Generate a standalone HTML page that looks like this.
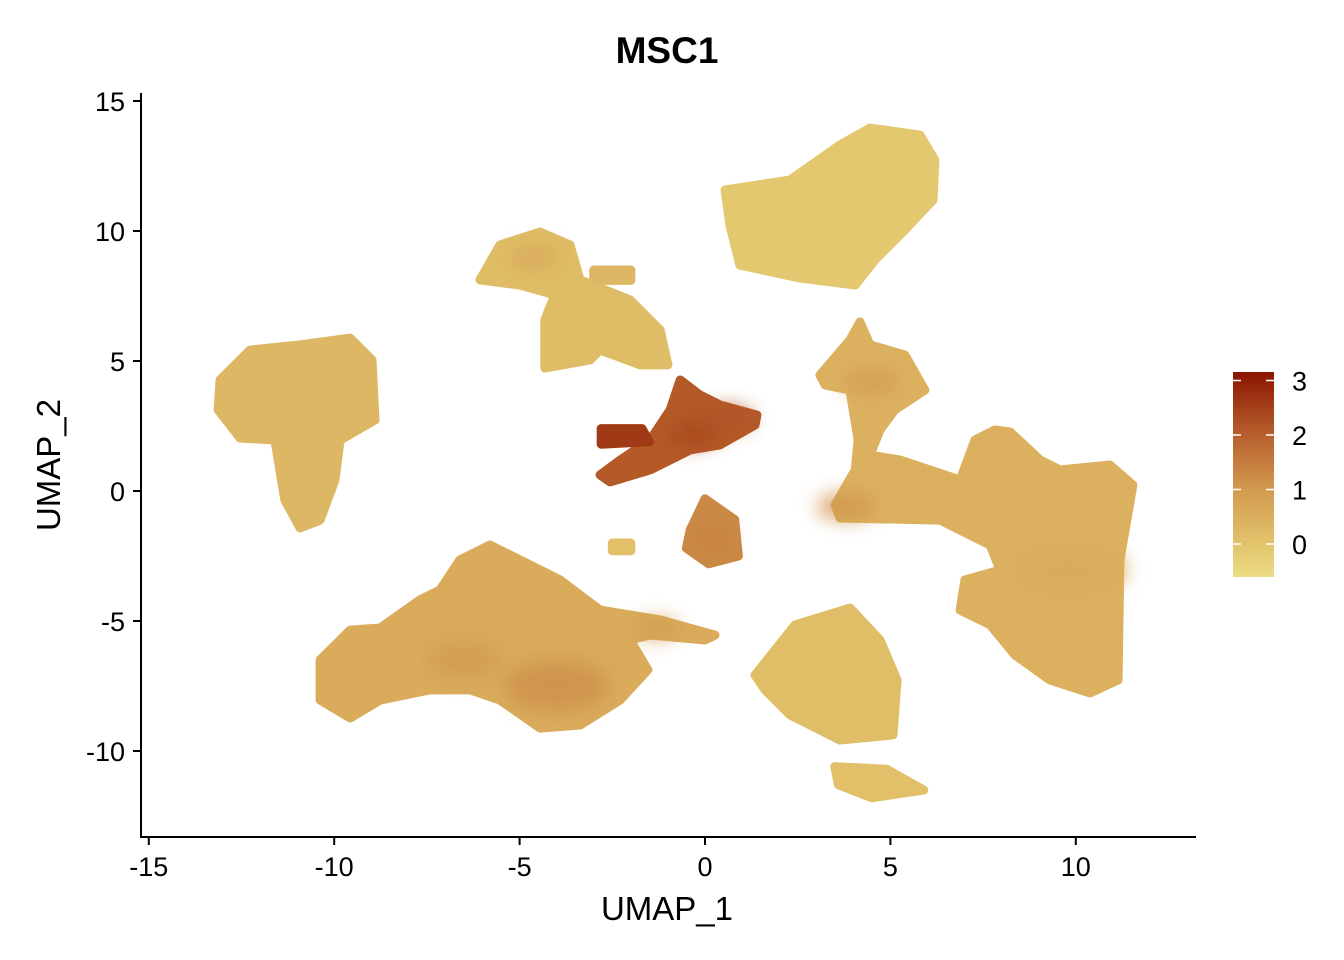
<!DOCTYPE html>
<html><head><meta charset="utf-8"><style>
html,body{margin:0;padding:0;background:#fff;}
svg{display:block;font-family:"Liberation Sans",Arial,sans-serif;}
</style></head><body>
<svg id="chart" width="1344" height="960">
<defs>
<linearGradient id="cbar" x1="0" y1="1" x2="0" y2="0">
<stop offset="0" stop-color="#ecdc85"/>
<stop offset="0.159" stop-color="#e2c46c"/>
<stop offset="0.424" stop-color="#d39a50"/>
<stop offset="0.69" stop-color="#b8602d"/>
<stop offset="1" stop-color="#8a1500"/>
</linearGradient>
<filter id="soft" filterUnits="userSpaceOnUse" x="0" y="0" width="1344" height="960"><feGaussianBlur stdDeviation="9"/></filter>
</defs>
<text x="667" y="63" text-anchor="middle" font-size="37" font-weight="bold">MSC1</text>
<g id="clusters"></g>
<g id="hot"></g>
<line x1="141" y1="93" x2="141" y2="838" stroke="#000" stroke-width="2"/>
<line x1="140" y1="837" x2="1196" y2="837" stroke="#000" stroke-width="2"/>
<g id="xt"></g>
<g id="yt"></g>
<text x="667" y="920" text-anchor="middle" font-size="33">UMAP_1</text>
<text transform="translate(60,465) rotate(-90)" text-anchor="middle" font-size="33">UMAP_2</text>
<g>
<rect x="1233" y="372" width="41" height="205" fill="url(#cbar)"/>
<g id="lt"></g>
</g>
</svg>
<script>
const xTicks=[-15,-10,-5,0,5,10];
const yTicks=[15,10,5,0,-5,-10];
const legendTicks=[3,2,1,0];
const clusterNames=["left","top-right","upper-mid","streak","center-small","right","bottom-left","bottom-mid","bottom-tiny","tiny-a","tiny-b","streak-tip"];
const clusterValues=[0.3,-0.1,0.2,2.1,1.3,0.45,0.6,0.15,0.1,0.3,0.1,2.6];
const clusterShapes=[
[[-13.08,4.27],[-12.27,5.42],[-10.92,5.62],[-9.57,5.88],[-8.98,5.04],[-8.9,2.73],[-9.84,1.96],[-9.98,0.42],[-10.38,-1.12],[-10.92,-1.42],[-11.33,-0.35],[-11.6,1.96],[-12.54,2.04],[-13.13,3.12]],
[[0.54,11.58],[2.29,11.96],[3.64,13.31],[4.45,13.96],[5.8,13.69],[6.2,12.73],[6.15,11.19],[5.39,10.04],[4.58,8.88],[4.05,7.92],[2.56,8.19],[0.94,8.69],[0.67,10.23]],
[[-6.07,8.12],[-5.53,9.46],[-4.45,9.96],[-3.64,9.46],[-3.37,8.12],[-2.02,7.35],[-1.21,6.19],[-1.0,4.85],[-1.75,4.85],[-2.83,5.42],[-3.1,5.04],[-4.32,4.73],[-4.32,6.58],[-4.05,7.54],[-4.99,7.92]],
[[-2.83,0.62],[-2.29,1.19],[-1.48,1.96],[-0.94,3.12],[-0.67,4.27],[-0.13,3.69],[0.4,3.31],[1.4,2.92],[1.35,2.54],[0.4,1.77],[-0.4,1.58],[-1.48,0.81],[-2.56,0.35]],
[[-0.4,-1.5],[0,-0.3],[0.8,-1.1],[0.9,-2.5],[0.1,-2.8],[-0.5,-2.2]],
[[3.1,4.46],[3.91,5.81],[4.18,6.5],[4.45,5.62],[5.39,5.23],[5.93,3.88],[5.12,3.12],[4.72,2.35],[4.45,1.38],[5.26,1.19],[6.88,0.42],[7.28,1.96],[7.82,2.35],[8.23,2.27],[9.04,1.19],[9.57,0.81],[10.92,1.0],[11.54,0.23],[11.19,-2.65],[11.14,-7.27],[10.38,-7.77],[9.3,-7.27],[8.36,-6.31],[7.69,-5.15],[6.88,-4.58],[7.01,-3.42],[7.96,-3.04],[7.69,-2.08],[6.34,-1.12],[3.64,-1.04],[3.51,-0.54],[4.05,0.81],[4.13,1.96],[3.91,3.88],[3.24,4.08]],
[[-10.38,-6.5],[-9.57,-5.35],[-8.76,-5.27],[-7.69,-4.19],[-7.15,-3.81],[-6.61,-2.65],[-5.8,-2.08],[-4.99,-2.65],[-3.91,-3.42],[-2.83,-4.58],[-1.21,-4.96],[0.27,-5.54],[0,-5.73],[-1.48,-5.54],[-2.02,-5.73],[-1.54,-6.88],[-2.29,-8.04],[-3.37,-9.0],[-4.45,-9.12],[-5.53,-8.04],[-6.34,-7.65],[-7.42,-7.65],[-8.76,-8.04],[-9.57,-8.73],[-10.38,-8.04]],
[[1.35,-7.08],[2.43,-5.15],[3.91,-4.5],[4.72,-5.73],[5.18,-7.27],[5.07,-9.38],[3.64,-9.58],[2.29,-8.61],[1.62,-7.65]],
[[3.5,-10.6],[4.9,-10.7],[5.9,-11.5],[4.5,-11.8],[3.6,-11.3]],
[[-3.0,8.5],[-2.0,8.5],[-2.0,8.1],[-3.0,8.1]],
[[-2.5,-2.0],[-2.0,-2.0],[-2.0,-2.3],[-2.5,-2.3]],
[[-2.8,2.4],[-1.7,2.4],[-1.5,1.9],[-2.8,1.8]]
];
const hotX=[-0.3,0.6,-4.0,-6.5,4.5,3.8,0.2,-1.3,9.8,-4.6];
const hotY=[2.2,2.8,-7.5,-6.5,4.2,-0.6,-1.8,-5.3,-3,9.0];
const hotR=[0.7,0.7,1.4,1.0,0.8,0.8,0.5,0.6,1.6,0.7];
const hotV=[2.4,2.2,1.2,1.0,0.9,1.1,1.5,1.0,0.6,0.7];

const X=v=>705+v*37.08, Y=v=>491-v*26;
const stops=[[-0.6,[236,220,133]],[0,[226,196,108]],[1,[211,154,80]],[2,[184,96,45]],[3.17,[138,21,0]]];
function col(v){v=Math.max(-0.6,Math.min(3.17,v));for(let i=0;i<stops.length-1;i++){const a=stops[i],b=stops[i+1];if(v<=b[0]){const t=(v-a[0])/(b[0]-a[0]);return 'rgb('+a[1].map((c,k)=>Math.round(c+(b[1][k]-c)*t)).join(',')+')';}}return 'rgb(138,21,0)';}
const NS="http://www.w3.org/2000/svg";
const cg=document.getElementById('clusters');
clusterShapes.forEach((pts,i)=>{
 const p=document.createElementNS(NS,'polygon');
 p.setAttribute('points',pts.map(q=>X(q[0])+','+Y(q[1])).join(' '));
 const c=col(clusterValues[i]);
 p.setAttribute('fill',c);p.setAttribute('stroke',c);p.setAttribute('stroke-width','9');p.setAttribute('stroke-linejoin','round');
 
 
 cg.appendChild(p);
});
const hg=document.getElementById('hot');
hotX.forEach((hx,i)=>{
 const e=document.createElementNS(NS,'ellipse');
 e.setAttribute('cx',X(hx));e.setAttribute('cy',Y(hotY[i]));
 e.setAttribute('rx',hotR[i]*37.08);e.setAttribute('ry',hotR[i]*26*0.7);
 e.setAttribute('fill',col(hotV[i]));e.setAttribute('opacity','0.75');e.setAttribute('filter','url(#soft)');
 
 
 hg.appendChild(e);
});
const xt=document.getElementById('xt');
xTicks.forEach(t=>{
 const l=document.createElementNS(NS,'line');l.setAttribute('x1',X(t));l.setAttribute('x2',X(t));l.setAttribute('y1',837);l.setAttribute('y2',845);l.setAttribute('stroke','#000');l.setAttribute('stroke-width','2');
 
 
 xt.appendChild(l);
 const s=document.createElementNS(NS,'text');s.setAttribute('x',X(t));s.setAttribute('y',876);s.setAttribute('text-anchor','middle');s.setAttribute('font-size','27');s.textContent=t;
 
 
 xt.appendChild(s);
});
const yt=document.getElementById('yt');
yTicks.forEach(t=>{
 const l=document.createElementNS(NS,'line');l.setAttribute('x1',133);l.setAttribute('x2',141);l.setAttribute('y1',Y(t));l.setAttribute('y2',Y(t));l.setAttribute('stroke','#000');l.setAttribute('stroke-width','2');
 
 
 yt.appendChild(l);
 const s=document.createElementNS(NS,'text');s.setAttribute('x',125);s.setAttribute('y',Y(t)+10);s.setAttribute('text-anchor','end');s.setAttribute('font-size','27');s.textContent=t;
 
 
 yt.appendChild(s);
});
const lt=document.getElementById('lt');
const LY=v=>544-v*54.5;
legendTicks.forEach(t=>{
 [[1233,1241],[1266,1274]].forEach(xx=>{
  const l=document.createElementNS(NS,'line');l.setAttribute('x1',xx[0]);l.setAttribute('x2',xx[1]);l.setAttribute('y1',LY(t));l.setAttribute('y2',LY(t));l.setAttribute('stroke','#fff');l.setAttribute('stroke-width','1.5');
  
  
  lt.appendChild(l);
 });
 const s=document.createElementNS(NS,'text');s.setAttribute('x',1292);s.setAttribute('y',LY(t)+10);s.setAttribute('font-size','27');s.textContent=t;
 
 
 lt.appendChild(s);
});
</script>
</body></html>
